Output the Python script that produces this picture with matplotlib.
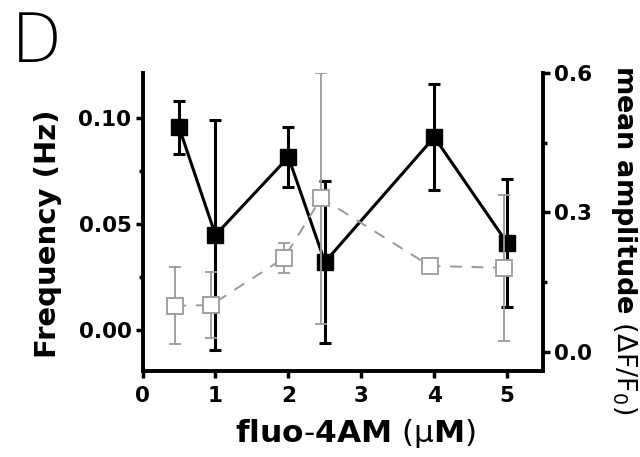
import numpy as np
import matplotlib
matplotlib.use('Agg')
import matplotlib.pyplot as plt
from matplotlib.ticker import MultipleLocator

# dye concentration (uM); open squares are drawn slightly left of the filled ones
conc = [0.5, 1, 2, 2.5, 4, 5]
conc_amp = [0.44, 0.94, 1.94, 2.45, 3.94, 4.95]

freq = [0.0955, 0.0447, 0.0814, 0.032, 0.0908, 0.0409]        # Hz, left axis
freq_err = [0.0125, 0.054, 0.014, 0.038, 0.025, 0.030]

amp = [0.099, 0.101, 0.202, 0.331, 0.185, 0.181]              # dF/F0, right axis
amp_err = [0.083, 0.071, 0.032, 0.27, 0.008, 0.157]

left_ticks = [0.00, 0.05, 0.10]
left_labels = ['0.00', '0.05', '0.10']
right_ticks = [0.0, 0.3, 0.6]
right_labels = ['0.0', '0.3', '0.6']
x_ticks = [0, 1, 2, 3, 4, 5]

plt.rcParams['font.family'] = 'DejaVu Sans'
plt.rcParams['font.weight'] = 'bold'
plt.rcParams['mathtext.default'] = 'regular'

fig = plt.figure(figsize=(6.4, 4.57), dpi=100)
ax = fig.add_axes([0.2227, 0.1882, 0.6257, 0.6521])
ax2 = ax.twinx()

gray = '#9a9a9a'
ax2.errorbar(conc_amp, amp, yerr=amp_err, color=gray, ls=(0, (6, 5)), lw=1.4,
             marker='s', ms=11, mfc='white', mec=gray, mew=1.3,
             elinewidth=1.3, capsize=4, capthick=1.3, zorder=2)
ax.errorbar(conc, freq, yerr=freq_err, color='black', lw=2.2,
            marker='s', ms=11.5, mfc='black', mec='black',
            elinewidth=2.2, capsize=4, capthick=2.2, zorder=3)

ax.set_xlim(0, 5.49)
ax.set_ylim(-0.0193, 0.121)
ax2.set_ylim(-0.041, 0.6)

ax.set_xticks(x_ticks)
ax.set_yticks(left_ticks)
ax.set_yticklabels(left_labels)
ax.yaxis.set_minor_locator(MultipleLocator(0.025))
ax2.set_yticks(right_ticks)
ax2.set_yticklabels(right_labels)
ax2.yaxis.set_minor_locator(MultipleLocator(0.15))

for a in (ax, ax2):
    a.spines['top'].set_visible(False)
    for s in ('left', 'right', 'bottom'):
        a.spines[s].set_linewidth(2.8)
    a.tick_params(which='major', direction='out', length=5, width=2.5, labelsize=15.5)
    a.tick_params(which='minor', direction='out', length=3, width=2.5)
ax.spines['right'].set_visible(False)
ax2.spines['left'].set_visible(False)
ax2.spines['bottom'].set_visible(False)
ax.tick_params(axis='y', pad=3)
ax.tick_params(axis='x', pad=6)
ax2.tick_params(axis='y', pad=3)

# axis titles placed as figure text, units in regular weight
fig.text(355 / 640, 1 - 434 / 457, r'$\mathbf{fluo}$-$\mathbf{4AM}$ (μ$\mathbf{M}$)',
         fontsize=22.5, fontweight='normal', ha='center', va='center')
fig.text(48 / 640, 1 - 234 / 457, 'Frequency (Hz)', fontsize=21,
         fontweight='bold', rotation=90, ha='center', va='center')
fig.text(624 / 640, 1 - 240 / 457, r'$\mathbf{mean\ amplitude}$ (ΔF/$F_0$)',
         fontsize=19.5, fontweight='normal', rotation=-90, ha='center', va='center')

fig.text(0.017, 0.978, 'D', fontsize=48, fontweight='light', va='top', ha='left')

fig.savefig('out.png', dpi=100)
